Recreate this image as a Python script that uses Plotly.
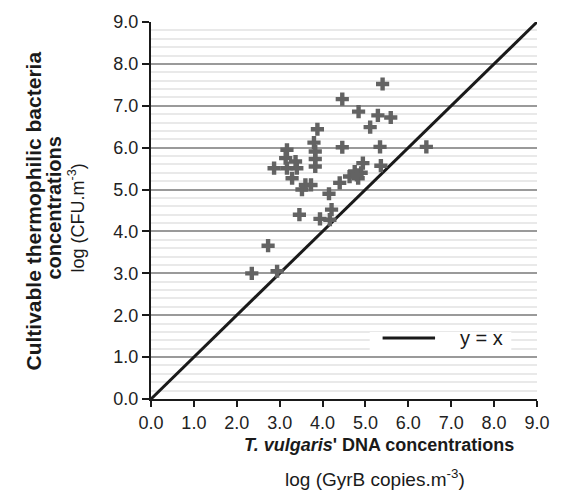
import plotly.graph_objects as go

# data (log GyrB copies/m3 vs log CFU/m3)
x_dna = [2.35, 2.94, 2.73, 3.46, 3.94, 4.17, 4.21, 4.15, 3.52, 3.60, 3.73, 3.29,
         2.87, 3.17, 3.40, 3.14, 3.37, 3.17, 3.83, 3.83, 3.83, 3.80, 3.88, 4.46,
         4.46, 4.40, 4.63, 4.75, 4.83, 4.90, 4.94, 4.84, 5.11, 5.29, 5.59, 5.40,
         5.34, 5.36, 6.42, 4.80]
y_cfu = [3.00, 3.05, 3.66, 4.40, 4.30, 4.28, 4.52, 4.90, 5.00, 5.11, 5.11, 5.27,
         5.51, 5.51, 5.51, 5.75, 5.67, 5.95, 5.55, 5.73, 5.91, 6.12, 6.44, 6.01,
         7.16, 5.16, 5.31, 5.43, 5.27, 5.40, 5.63, 6.86, 6.49, 6.77, 6.72, 7.52,
         6.02, 5.57, 6.02, 5.35]
identity = [0.0, 9.0]
ticks = [0, 1, 2, 3, 4, 5, 6, 7, 8, 9]
tick_text = ["%.1f" % t for t in ticks]

FONT = "Liberation Sans, Arial, sans-serif"
FS = 18

fig = go.Figure()
fig.add_trace(go.Scatter(x=identity, y=identity, mode="lines",
                         line=dict(color="#1a1a1a", width=3), showlegend=False,
                         hoverinfo="skip"))
fig.add_trace(go.Scatter(x=x_dna, y=y_cfu, mode="markers",
                         marker=dict(symbol="cross", size=11, color="#636363",
                                     line=dict(width=0)),
                         showlegend=False))

axis_common = dict(range=[0, 9], tickvals=ticks, ticktext=tick_text,
                   showline=True, linecolor="#1a1a1a", linewidth=2,
                   ticks="outside", tickcolor="#1a1a1a", tickwidth=2,
                   zeroline=False, tickfont=dict(family=FONT, size=FS, color="#222"))

fig.update_xaxes(**axis_common, ticklen=6, showgrid=False)
fig.update_yaxes(**axis_common, ticklen=7, showgrid=True, gridcolor="#9a9a9a",
                 gridwidth=2,
                 minor=dict(dtick=0.2, showgrid=True, gridcolor="#e9e9e9",
                            gridwidth=1.5, ticks=""))

W, H = 562, 495
ML, MR, MT, MB = 151, 21, 22, 96
PW, PH = W - ML - MR, H - MT - MB
PL, PB = ML, H - MB


def px_x(p):
    return (p - PL) / PW


def px_y(p):
    return (PB - p) / PH


annos = [
    dict(text="<b>Cultivable thermophilic bacteria</b>", x=0, xshift=33 - PL,
         y=0.5, yshift=-1, textangle=-90, size=21),
    dict(text="<b>concentrations</b>", x=0, xshift=53 - PL, y=0.5, yshift=2,
         textangle=-90, size=20),
    dict(text="log (CFU.m<sup>-3</sup>)", x=0, xshift=77 - PL, y=0.5, yshift=-8,
         textangle=-90),
    dict(text="<b><i>T. vulgaris</i>' DNA concentrations</b>", x=0.5, xshift=35,
         y=0, yshift=-(445 - PB)),
    dict(text="log (GyrB copies.m<sup>-3</sup>)", x=0.5, xshift=31,
         y=0, yshift=-(478 - PB), size=19),
    dict(text="y = x", x=0, xshift=458 - PL, y=0, yshift=-(338 - PB),
         xanchor="left", size=20),
]
for a in annos:
    a.setdefault("xanchor", "center")
    sz = a.pop("size", FS)
    fig.add_annotation(xref="paper", yref="paper", yanchor="middle",
                       showarrow=False, font=dict(family=FONT, size=sz, color="#1a1a1a"),
                       **a)

# legend box + legend line sample
fig.add_shape(type="rect", xref="paper", yref="paper",
              x0=px_x(372), x1=px_x(515), y0=px_y(352), y1=px_y(332),
              fillcolor="white", line=dict(width=0), layer="above")
fig.add_shape(type="line", xref="paper", yref="paper",
              x0=px_x(385), x1=px_x(438), y0=px_y(338), y1=px_y(338),
              line=dict(color="#1a1a1a", width=3), layer="above")

fig.update_layout(width=W, height=H, plot_bgcolor="white", paper_bgcolor="white",
                  margin=dict(l=ML, r=MR, t=MT, b=MB), showlegend=False,
                  font=dict(family=FONT, size=FS, color="#1a1a1a"))

fig.write_html("out.html", config={"displayModeBar": False},
               post_script="document.body.style.margin='0';"
                           "document.body.style.overflow='hidden';")
